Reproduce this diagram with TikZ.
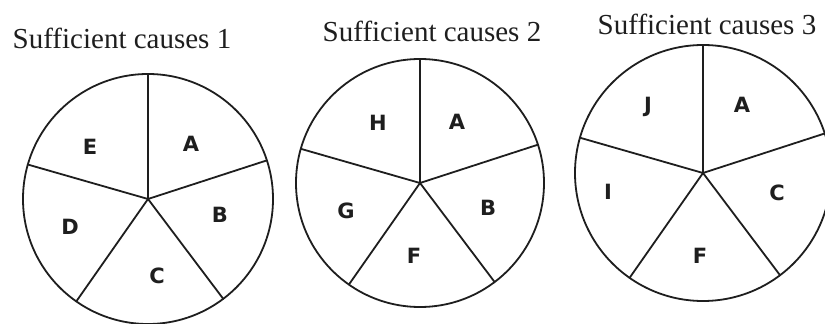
\documentclass[tikz,border=0pt]{standalone}
\usepackage{fontspec}
\setmainfont{Liberation Serif}
\newfontfamily\labelfont{DejaVu Sans}
\usepackage{tikz}
\usetikzlibrary{positioning}
\definecolor{ink}{HTML}{1E1E1E}

\begin{document}
\begin{tikzpicture}[x=1pt, y=1pt,
    pie/.style={draw=ink, line width=1.8pt, circle, outer sep=0pt, inner sep=0pt},
    part/.style={font=\labelfont\bfseries\fontsize{21}{21}\selectfont, text=ink},
    title/.style={font=\fontsize{29}{29}\selectfont, text=ink}]
  \clip (0,0) rectangle (825,324);
  \fill[white] (0,0) rectangle (825,324);

  % the three pies
  \node[pie, minimum size=250pt] (pie1) at (148,125) {};
  \node[pie, minimum size=248pt] (pie2) at (420,141) {};
  \node[pie, minimum size=256pt] (pie3) at (703,151) {};
  \foreach \p in {pie1,pie2,pie3}
    \foreach \a in {90,18,-53,-125,164}
      \draw[ink, line width=1.8pt, line cap=round] (\p.center) -- (\p.\a);

  % titles
  \node[title] (title1) at (122,286) {Sufficient causes 1};
  \node[title] (title2) at (432,293) {Sufficient causes 2};
  \node[title] (title3) at (707,300) {Sufficient causes 3};

  % component causes
  \node[part] (e1) at ([shift={(-58,52)}]pie1.center) {E};
  \node[part] (a1) at ([shift={(43,55)}]pie1.center) {A};
  \node[part] (b1) at ([shift={(72,-16)}]pie1.center) {B};
  \node[part] (c1) at ([shift={(9,-77)}]pie1.center) {C};
  \node[part] (d1) at ([shift={(-78,-28)}]pie1.center) {D};

  \node[part] (h2) at ([shift={(-42,60)}]pie2.center) {H};
  \node[part] (a2) at ([shift={(37,61)}]pie2.center) {A};
  \node[part] (b2) at ([shift={(68,-25)}]pie2.center) {B};
  \node[part] (f2) at ([shift={(-6,-73)}]pie2.center) {F};
  \node[part] (g2) at ([shift={(-74,-28)}]pie2.center) {G};

  \node[part] (j3) at ([shift={(-55,66)}]pie3.center) {J};
  \node[part] (a3) at ([shift={(39,68)}]pie3.center) {A};
  \node[part] (c3) at ([shift={(74,-20)}]pie3.center) {C};
  \node[part] (f3) at ([shift={(-3,-83)}]pie3.center) {F};
  \node[part] (i3) at ([shift={(-95,-19)}]pie3.center) {I};
\end{tikzpicture}
\end{document}
